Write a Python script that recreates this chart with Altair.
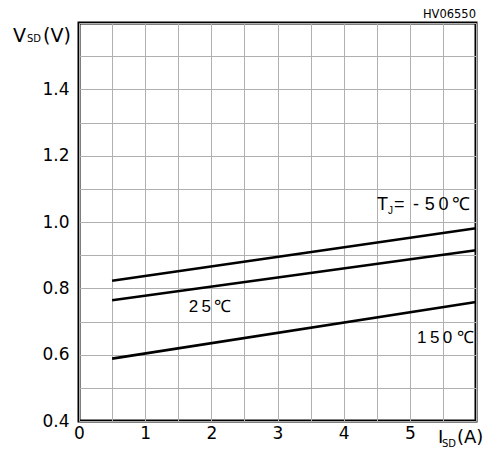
import altair as alt
import pandas as pd

# ---- data ----
current_a = [0.5, 6.0]
vsd_m50 = [0.823, 0.981]
vsd_25 = [0.764, 0.915]
vsd_150 = [0.588, 0.759]

x_grid = [i * 0.5 for i in range(13)]
y_grid = [round(0.4 + 0.1 * i, 1) for i in range(13)]

FONT = "DejaVu Sans"
AFONT = "Liberation Sans"
TS = "\u2009"  # thin space for the letter-spaced labels

rows = []
for name, vals in [("-50", vsd_m50), ("25", vsd_25), ("150", vsd_150)]:
    for x, y in zip(current_a, vals):
        rows.append({"series": name, "I": x, "V": y})
df = pd.DataFrame(rows)

xs = alt.Scale(domain=[0, 6], nice=False, zero=False)
ys = alt.Scale(domain=[0.4, 1.6], nice=False, zero=False)

x_axis = alt.Axis(
    values=x_grid, title=None, ticks=False, domain=False,
    grid=True, gridColor="#b0b0b0", gridWidth=1, gridOpacity=1,
    labelExpr="datum.value % 1 == 0 && datum.value < 6 ? format(datum.value, 'd') : ''",
    labelFont=FONT, labelFontSize=17, labelColor="black",
    labelPadding=4, labelFlush=False, labelOverlap=False)
y_axis = alt.Axis(
    values=y_grid, title=None, ticks=False, domain=False,
    grid=True, gridColor="#b0b0b0", gridWidth=1, gridOpacity=1,
    labelExpr="(round(datum.value*10) % 2 == 0 && datum.value < 1.55) ? format(datum.value, '.1f') : ''",
    labelFont=FONT, labelFontSize=17, labelColor="black",
    labelPadding=10, labelFlush=False, labelOverlap=False)

lines = alt.Chart(df).mark_line(color="black", strokeWidth=2.6).encode(
    x=alt.X("I:Q", scale=xs, axis=x_axis),
    y=alt.Y("V:Q", scale=ys, axis=y_axis),
    detail="series:N",
)

# annotations: text, anchor x, anchor y (data), pixel offsets, size, align, font
ann_text = ["V", "SD", "(V)",
            "I", "SD", "(A)",
            "T", "J", "=" + TS + " -", "5" + TS + "0" + TS + "\u2103",
            "2" + TS + "5" + TS + "\u2103",
            "1" + TS + "5" + TS + "0 \u2103",
            "HV06550"]
ann_x = [0, 0, 0,
         6, 6, 6,
         6, 6, 6, 6,
         1.98,
         6,
         6]
ann_y = [1.6, 1.6, 1.6,
         0.4, 0.4, 0.4,
         1.048, 1.048, 1.048, 1.048,
         0.744,
         0.647,
         1.6]
ann_dx = [-66, -52, -36,
          -38, -34, -19,
          -99, -88, -82, -6,
          0,
          -2,
          0]
ann_dy = [19, 19, 19,
          22, 26, 22,
          4, 8, 4, 4,
          5,
          4,
          -5]
ann_size = [19, 10, 19,
            18, 10, 18,
            18, 10, 18, 18,
            17,
            17,
            11.5]
ann_align = ["left", "left", "left",
             "left", "left", "left",
             "left", "left", "left", "right",
             "center",
             "right",
             "right"]
ann_font = [FONT, FONT, FONT,
            FONT, FONT, FONT,
            AFONT, AFONT, AFONT, AFONT,
            AFONT,
            AFONT,
            FONT]

ann_layers = []
for t, x, y, dx, dy, s, al, f in zip(ann_text, ann_x, ann_y, ann_dx, ann_dy,
                                     ann_size, ann_align, ann_font):
    d = pd.DataFrame({"I": [x], "V": [y], "t": [t]})
    ann_layers.append(
        alt.Chart(d).mark_text(font=f, fontSize=s, color="black", align=al,
                               baseline="alphabetic", dx=dx, dy=dy).encode(
            x=alt.X("I:Q", scale=xs, axis=x_axis),
            y=alt.Y("V:Q", scale=ys, axis=y_axis),
            text="t:N",
        )
    )

chart = alt.layer(lines, *ann_layers).properties(
    width=397, height=398,
    autosize="none",
    padding={"left": 71, "top": 15, "right": 8, "bottom": 27},
    background="white",
).configure_view(stroke="black", strokeWidth=3)

chart.save("out.html", embed_options={"renderer": "svg", "actions": False})
